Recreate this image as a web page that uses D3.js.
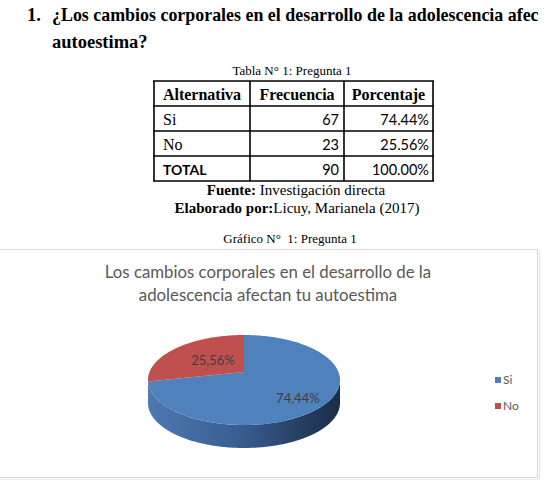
<!DOCTYPE html>
<html>
<head>
<meta charset="utf-8">
<script src="https://cdn.jsdelivr.net/npm/d3@7/dist/d3.min.js"></script>
<style>
  html, body { margin: 0; padding: 0; background: #fff; }
  svg { display: block; }
</style>
</head>
<body>
<script>
// ---------- DATA ----------
const headingNumber = "1.";
const headingLines = ["¿Los cambios corporales en el desarrollo de la adolescencia afec", "autoestima?"];
const tableCaption = "Tabla N° 1: Pregunta 1";
const tableHeaders = ["Alternativa", "Frecuencia", "Porcentaje"];
const alternativas = ["Si", "No"];
const frecuencias = [67, 23];
const totalLabel = "TOTAL";
const fuenteLabel = ["Fuente:", " Investigación directa"];
const elaboradoLabel = ["Elaborado por:", "Licuy, Marianela (2017)"];
const chartCaption = "Gráfico N°  1: Pregunta 1";
const chartTitleLines = ["Los cambios corporales en el desarrollo de la", "adolescencia afectan tu autoestima"];
const sliceColors = ["#4f81bd", "#c0504d"];

// ---------- SETUP ----------
const W = 547, H = 481;
const svg = d3.select("body").append("svg").attr("width", W).attr("height", H);
const serif = "'Liberation Serif', 'Times New Roman', serif";
const sans = "Lato, 'Open Sans', sans-serif";

const total = d3.sum(frecuencias);
const pctFmt = d3.format(".2f");
const pctDot = v => pctFmt(v / total * 100) + "%";
const pctComma = v => pctFmt(v / total * 100).replace(".", ",") + "%";

// ---------- HEADING ----------
svg.append("text").attr("x", 27).attr("y", 21)
  .attr("font-family", serif).attr("font-weight", "bold").attr("font-size", 18.5)
  .text(headingNumber);
const heads = svg.selectAll("text.heading").data(headingLines).enter().append("text")
  .attr("class", "heading")
  .attr("x", 52).attr("y", (d, i) => 21 + i * 27)
  .attr("font-family", serif).attr("font-weight", "bold").attr("font-size", 18.5)
  .text(d => d);
// shrink the long first line so it stays inside the page
heads.filter((d, i) => i === 0).each(function () {
  const len = this.getComputedTextLength();
  const maxLen = W - 60;
  if (len > maxLen) d3.select(this).attr("font-size", 18.5 * maxLen / len);
});

// ---------- TABLE ----------
svg.append("text").attr("x", 292).attr("y", 75).attr("text-anchor", "middle")
  .attr("font-family", serif).attr("font-size", 13).text(tableCaption);

const colX = [154, 250, 344, 433];
const rowY = d3.range(5).map(i => 81 + i * 25);
const rows = alternativas.map((a, i) => [a, frecuencias[i], pctDot(frecuencias[i])]);
rows.push([totalLabel, total, pctDot(total)]);

const tg = svg.append("g");
rowY.forEach(y => tg.append("line").attr("x1", colX[0] - 1).attr("x2", colX[3] + 1)
  .attr("y1", y).attr("y2", y).attr("stroke", "#000").attr("stroke-width", 1.6));
colX.forEach(x => tg.append("line").attr("x1", x).attr("x2", x)
  .attr("y1", rowY[0]).attr("y2", rowY[4]).attr("stroke", "#000").attr("stroke-width", 1.6));
tableHeaders.forEach((h, j) => tg.append("text")
  .attr("x", (colX[j] + colX[j + 1]) / 2).attr("y", rowY[0] + 18.5)
  .attr("text-anchor", "middle").attr("font-family", serif).attr("font-weight", "bold")
  .attr("font-size", 16).text(h));
rows.forEach((r, i) => {
  const y = rowY[i + 1] + 18.5;
  const isTotal = i === rows.length - 1;
  tg.append("text").attr("x", colX[0] + 9).attr("y", y)
    .attr("font-family", isTotal ? sans : serif)
    .attr("font-weight", isTotal ? "bold" : "normal")
    .attr("font-size", isTotal ? 14 : 16).text(r[0]);
  tg.append("text").attr("x", colX[2] - 5).attr("y", y).attr("text-anchor", "end")
    .attr("font-family", sans).attr("font-size", 14.5).text(r[1]);
  tg.append("text").attr("x", colX[3] - 4).attr("y", y).attr("text-anchor", "end")
    .attr("font-family", sans).attr("font-size", 14.5).text(r[2]);
});

// ---------- SOURCE ----------
const f1 = svg.append("text").attr("x", 296).attr("y", 195).attr("text-anchor", "middle")
  .attr("font-family", serif).attr("font-size", 15);
f1.append("tspan").attr("font-weight", "bold").text(fuenteLabel[0]);
f1.append("tspan").text(fuenteLabel[1]);
const f2 = svg.append("text").attr("x", 297).attr("y", 213).attr("text-anchor", "middle")
  .attr("font-family", serif).attr("font-size", 15);
f2.append("tspan").attr("font-weight", "bold").text(elaboradoLabel[0]);
f2.append("tspan").text(elaboradoLabel[1]);

svg.append("text").attr("x", 290).attr("y", 243).attr("text-anchor", "middle")
  .attr("font-family", serif).attr("font-size", 13)
  .style("white-space", "pre").text(chartCaption);

// ---------- CHART FRAME ----------
svg.append("line").attr("x1", 539.5).attr("x2", 539.5).attr("y1", 251).attr("y2", 479)
  .attr("stroke", "#e4e4e4");
svg.append("line").attr("x1", 0).attr("x2", 539.5).attr("y1", 479.5).attr("y2", 479.5)
  .attr("stroke", "#ececec");
svg.append("rect").attr("x", -2).attr("y", 249.5).attr("width", 539.5).attr("height", 228)
  .attr("fill", "#fff").attr("stroke", "#d9d9d9");

svg.selectAll("text.ctitle").data(chartTitleLines).enter().append("text")
  .attr("class", "ctitle").attr("x", 268).attr("y", (d, i) => 278 + i * 23)
  .attr("text-anchor", "middle").attr("font-family", sans).attr("font-size", 16.8)
  .attr("fill", "#595959").text(d => d);

// ---------- 3D PIE ----------
const cx = 244, cy = 380, rx = 96, ry = 45, depth = 23, apexShift = 8;
const arcs = d3.pie().sort(null).value(d => d)(frecuencias);
const pt = (a, dy = 0) => [cx + rx * Math.sin(a), cy - ry * Math.cos(a) + dy];
const arcPts = (a0, a1, dy = 0) => {
  const n = Math.max(2, Math.ceil((a1 - a0) / 0.02));
  return d3.range(n + 1).map(k => pt(a0 + (a1 - a0) * k / n, dy));
};

const defs = svg.append("defs");
const sideStops = [
  [["0%", "#4d78b0"], ["45%", "#3a6093"], ["100%", "#1b2c47"]],
  [["0%", "#a9443f"], ["45%", "#8a3431"], ["100%", "#4e1c1b"]]
];
sideStops.forEach((stops, i) => {
  const g = defs.append("linearGradient").attr("id", "side" + i)
    .attr("gradientUnits", "userSpaceOnUse")
    .attr("x1", cx - rx).attr("x2", cx + rx).attr("y1", 0).attr("y2", 0);
  stops.forEach(s => g.append("stop").attr("offset", s[0]).attr("stop-color", s[1]));
});

const line = d3.line();
const pg = svg.append("g");
arcs.forEach((d, i) => {
  const a0 = Math.max(d.startAngle, Math.PI / 2);
  const a1 = Math.min(d.endAngle, 3 * Math.PI / 2);
  if (a1 <= a0) return;
  const top = arcPts(a0, a1);
  const bot = arcPts(a0, a1, depth).reverse();
  pg.append("path").attr("d", line(top.concat(bot)) + "Z").attr("fill", "url(#side" + i + ")");
});
const apex = [cx, cy - apexShift];
arcs.forEach((d, i) => {
  const pts = [apex].concat(arcPts(d.startAngle, d.endAngle));
  pg.append("path").attr("d", line(pts) + "Z").attr("fill", sliceColors[i]);
});
const labelK = [0.78, 0.45];
const labelDy = [2, 3];
arcs.forEach((d, i) => {
  const m = (d.startAngle + d.endAngle) / 2;
  const p = [cx + labelK[i] * rx * Math.sin(m), cy - apexShift - labelK[i] * ry * Math.cos(m) + labelDy[i]];
  pg.append("text").attr("x", p[0]).attr("y", p[1]).attr("dy", "0.35em")
    .attr("text-anchor", "middle").attr("font-family", sans).attr("font-size", 13)
    .attr("fill", "#404040").text(pctComma(d.data));
});

// ---------- LEGEND ----------
const lg = svg.append("g");
alternativas.forEach((a, i) => {
  const y = 380 + i * 26;
  lg.append("rect").attr("x", 495).attr("y", y - 3).attr("width", 6).attr("height", 6)
    .attr("fill", sliceColors[i]);
  lg.append("text").attr("x", 503).attr("y", y).attr("dy", "0.35em")
    .attr("font-family", sans).attr("font-size", 12).attr("fill", "#595959").text(a);
});
</script>
</body>
</html>
